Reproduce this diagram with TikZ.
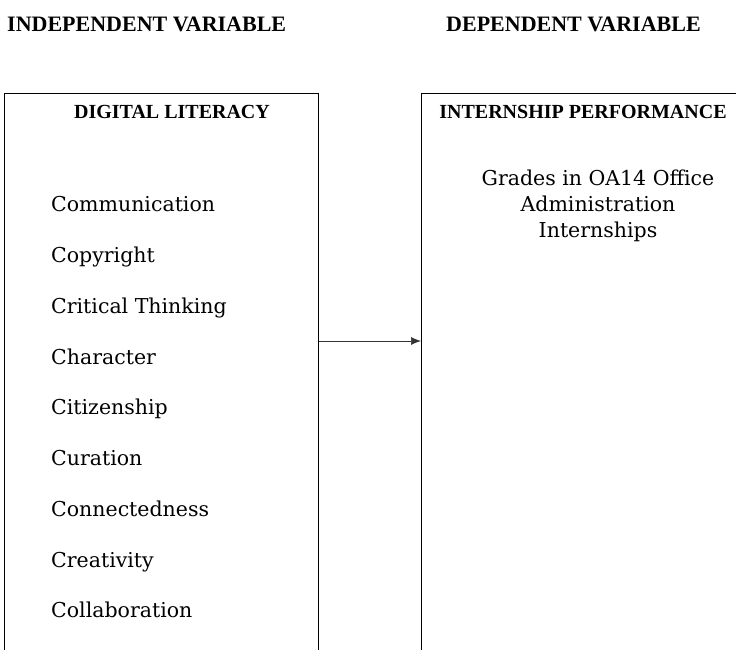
\documentclass[tikz,border=0pt]{standalone}
\usepackage{fontspec}
\setmainfont{DejaVu Serif}
\newfontfamily\headfont{Liberation Serif}
\usetikzlibrary{calc,positioning,arrows.meta}
\tikzset{
   var box/.style={ rectangle, draw=black, line width=1.3pt, minimum width=314pt, minimum height=600pt, anchor=north west, inner sep=0pt},
   heading/.style={ font=\headfont\bfseries\fontsize{22}{26}\selectfont, inner sep=0pt, anchor=base west},
   box title/.style={ font=\headfont\bfseries\fontsize{20}{24}\selectfont, inner sep=0pt, anchor=base},
   item/.style={ font=\fontsize{20.5}{26}\selectfont, anchor=base west, inner sep=0pt},
   >={Latex[length=10pt,width=8pt]}
}

\begin{document}
\begin{tikzpicture}[x=1pt,y=1pt]

  \useasboundingbox (0,0) rectangle (736,650);
  \clip (0,0) rectangle (736,650);

  \node[heading] at (7,618)   (indep) {INDEPENDENT VARIABLE};
  \node[heading] at (446,618) (dep)   {DEPENDENT VARIABLE};

  \node[var box] at (4,557)                       (literacy)    {};
  \node[var box, minimum width=340pt] at (421,557) (performance) {};

  %%%%%%%%%%%

  \node[box title] at (172,531) (literacy title)    {DIGITAL LITERACY};
  \node[box title] at (583,531) (performance title) {INTERNSHIP PERFORMANCE};

  \foreach \name [count=\i] in {Communication,Copyright,Critical Thinking,Character,Citizenship,Curation,Connectedness,Creativity,Collaboration}
    \node[item] at (51,{438-50.75*(\i-1)}) (dim \i) {\name};

  \node[font=\fontsize{20.5}{26}\selectfont, align=center, inner sep=0pt, anchor=north] at (598,480) (grades)
       {Grades in OA14 Office\\Administration\\Internships};

  %%%%%%%%%%%

  \coordinate (link) at (370,309);
  \draw[->, line width=0.7pt, black!80] (link -| literacy.east) -- (link -| performance.west);

\end{tikzpicture}
\end{document}
